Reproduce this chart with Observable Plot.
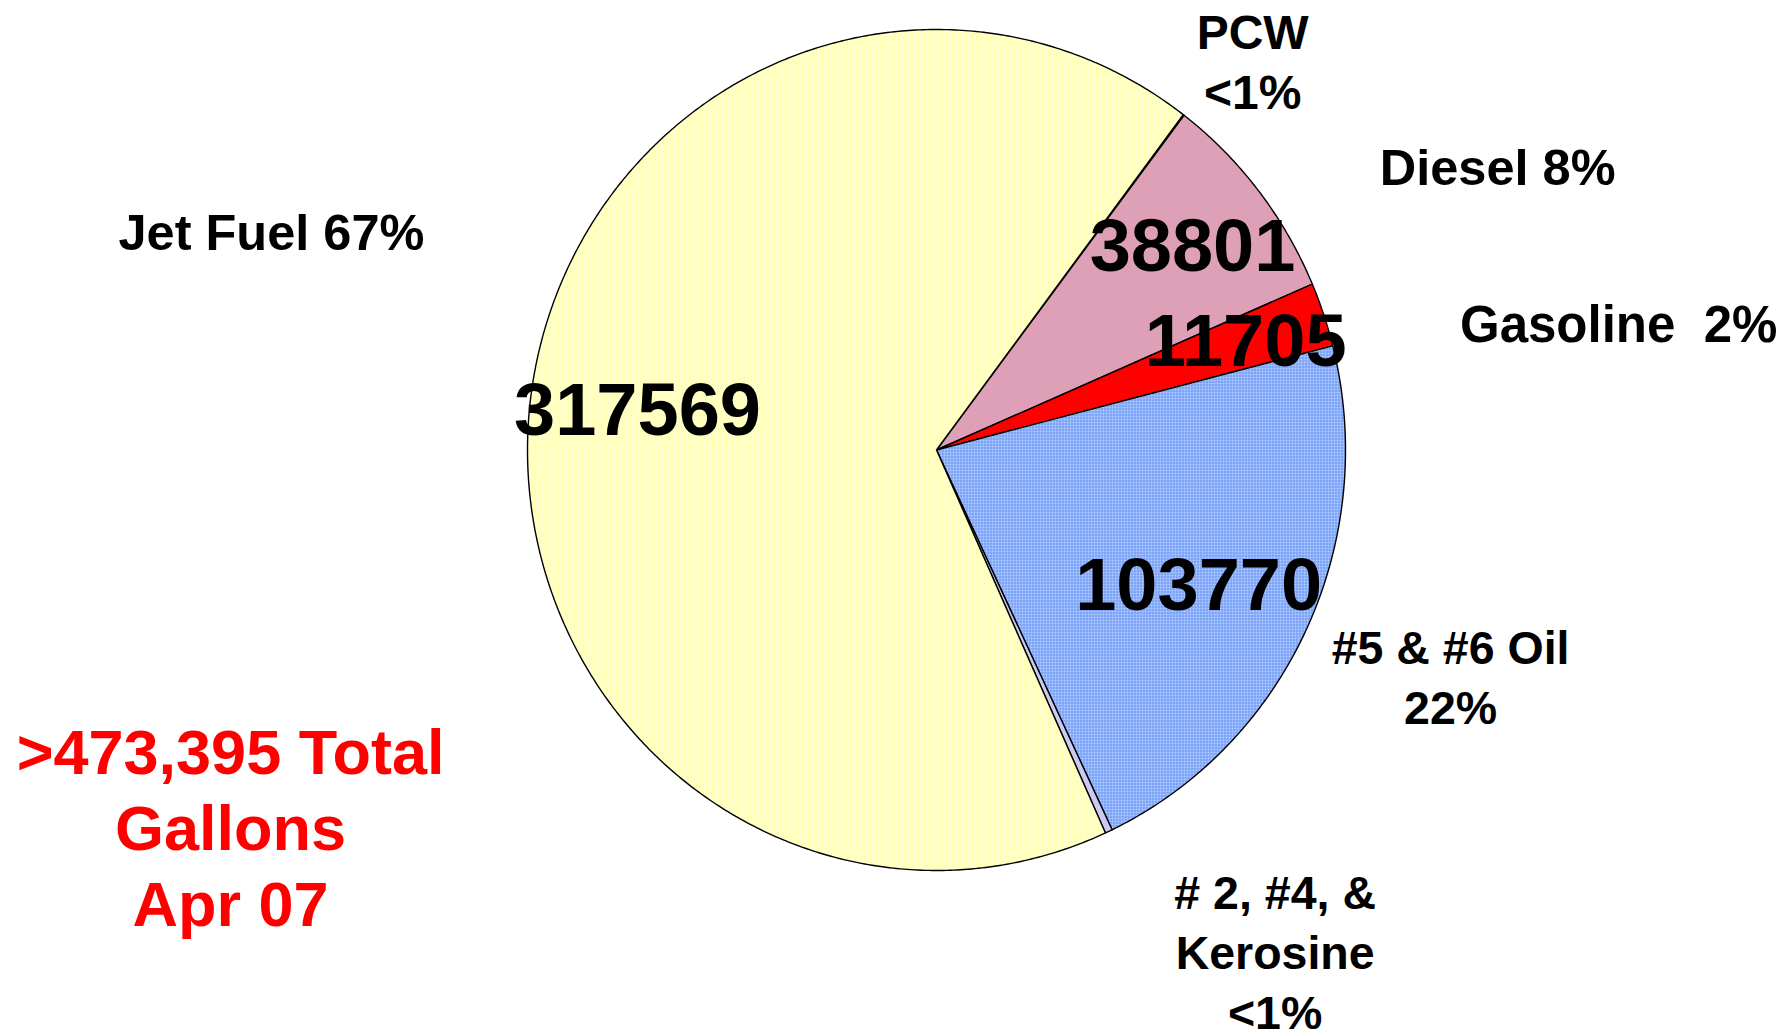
<!DOCTYPE html>
<html>
<head>
<meta charset="utf-8">
<script src="https://cdn.jsdelivr.net/npm/d3@7"></script>
<script src="https://cdn.jsdelivr.net/npm/@observablehq/plot@0.6"></script>
<style>
  html, body { margin: 0; padding: 0; background: #ffffff; }
  #chart svg { display: block; }
</style>
</head>
<body>
<svg width="0" height="0" style="position:absolute">
  <defs>
    <pattern id="patJet" width="3" height="3" patternUnits="userSpaceOnUse">
      <rect width="3" height="3" fill="#FFFFD4"/>
      <rect width="1" height="3" fill="#FFFF9C"/>
    </pattern>
    <pattern id="patDiesel" width="2" height="2" patternUnits="userSpaceOnUse">
      <rect width="2" height="2" fill="#E6ACC2"/>
      <rect width="1" height="1" fill="#D394AC"/>
      <rect x="1" y="1" width="1" height="1" fill="#D394AC"/>
    </pattern>
    <pattern id="patOil" width="3" height="3" patternUnits="userSpaceOnUse">
      <rect width="3" height="3" fill="#B6CEFF"/>
      <rect width="3" height="1" fill="#6D99F4"/>
      <rect width="1" height="3" fill="#6D99F4"/>
    </pattern>
  </defs>
</svg>
<div id="chart"></div>
<script>
// ---- data ----
const categories = ["PCW", "Diesel", "Gasoline", "#5 & #6 Oil", "# 2, #4, & Kerosine", "Jet Fuel"];
const gallons = [200, 38801, 11705, 103770, 1350, 317569];
const percentLabels = ["PCW\n<1%", "Diesel 8%", "Gasoline \u00A02%", "#5 & #6 Oil\n22%", "# 2, #4, &\nKerosine\n<1%", "Jet Fuel 67%"];
const showValue = [false, true, true, true, false, true];
const totalLabel = ">473,395 Total\nGallons\nApr 07";

// ---- layout (pie-relative units: -1..1 across the pie) ----
const startAngle = 37.1; // degrees clockwise from 12 o'clock
const fills = ["#E8C8E8", "url(#patDiesel)", "#FF0000", "url(#patOil)", "#CACAF2", "url(#patJet)"];
const valuePos = [null, [0.626, 0.481], [0.756, 0.257], [0.641, -0.324], null, [-0.731, 0.093]];
const labelPos = [[0.773, 1.055], [1.372, 0.732], [1.668, 0.358], [1.257, -0.408], [0.828, -0.990], [-1.626, 0.578]];
const labelSize = [48, 50.5, 51, 46.5, 46.5, 50.5];
const totalPos = [-1.726, -0.643];

// ---- build slice polygons from the values ----
const total = d3.sum(gallons);
const slices = [];
let acc = 0;
categories.forEach((c, i) => {
  const a0 = startAngle + (acc / total) * 360;
  acc += gallons[i];
  const a1 = startAngle + (acc / total) * 360;
  const n = Math.max(2, Math.ceil((a1 - a0) / 0.5));
  slices.push({category: c, px: 0, py: 0});
  for (let k = 0; k <= n; k++) {
    const a = (a0 + (a1 - a0) * k / n) * Math.PI / 180;
    slices.push({category: c, px: Math.sin(a), py: Math.cos(a)});
  }
  slices.push({category: c, px: 0, py: 0});
});

const valueLabels = categories
  .map((c, i) => ({category: c, text: String(gallons[i]), show: showValue[i], pos: valuePos[i]}))
  .filter(d => d.show);
const outerLabels = categories.map((c, i) => ({category: c, text: percentLabels[i], pos: labelPos[i], size: labelSize[i]}));

const font = "'Liberation Sans', Arial, Helvetica, sans-serif";

const chart = Plot.plot({
  width: 1785,
  height: 1032,
  margin: 0,
  style: {background: "#ffffff"},
  x: {domain: [-1, 1], range: [527, 1345], axis: null},
  y: {domain: [-1, 1], range: [870, 29], axis: null},
  color: {domain: categories, range: fills},
  marks: [
    Plot.line(slices, {
      x: "px", y: "py", z: "category", fill: "category",
      stroke: "#000000", strokeWidth: 1.4, strokeLinejoin: "round", curve: "linear"
    }),
    Plot.text(valueLabels, {
      x: d => d.pos[0], y: d => d.pos[1], text: "text",
      fontSize: 74, fontWeight: "bold", fontFamily: font, fill: "#000000",
      textAnchor: "middle", lineAnchor: "middle"
    }),
    ...outerLabels.map(d => Plot.text([d], {
      x: e => e.pos[0], y: e => e.pos[1], text: "text",
      fontSize: d.size, fontWeight: "bold", fontFamily: font, fill: "#000000",
      textAnchor: "middle", lineAnchor: "top", lineHeight: 60 / d.size
    })),
    Plot.text([totalLabel], {
      x: () => totalPos[0], y: () => totalPos[1], text: d => d,
      fontSize: 63, fontWeight: "bold", fontFamily: font, fill: "#FF0000",
      textAnchor: "middle", lineAnchor: "top", lineHeight: 1.206
    })
  ]
});
document.getElementById("chart").appendChild(chart);
</script>
</body>
</html>
